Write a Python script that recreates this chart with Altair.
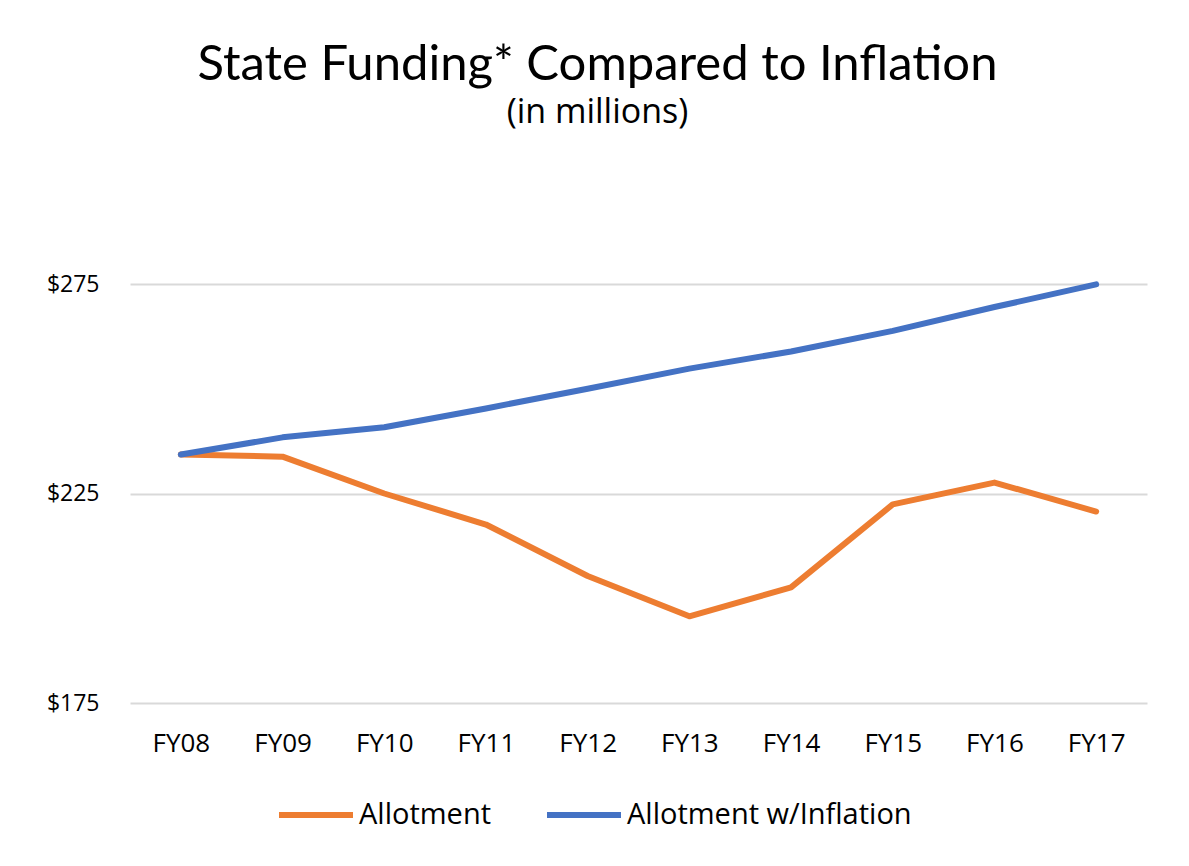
import altair as alt
import pandas as pd

years = ["FY08", "FY09", "FY10", "FY11", "FY12", "FY13", "FY14", "FY15", "FY16", "FY17"]
allotment = [234.3, 233.8, 225.0, 217.6, 205.3, 195.7, 202.6, 222.4, 227.6, 220.7]
allotment_infl = [234.3, 238.4, 240.8, 245.3, 250.0, 254.8, 258.9, 263.8, 269.5, 274.9]
series_names = ["Allotment", "Allotment w/Inflation"]
series_colors = ["#ED7D31", "#4472C4"]
y_ticks = [175, 225, 275]

rows = []
for i, fy in enumerate(years):
    rows.append({"year": fy, "series": series_names[0], "value": allotment[i], "order": 0})
    rows.append({"year": fy, "series": series_names[1], "value": allotment_infl[i], "order": 1})
df = pd.DataFrame(rows)

FONT = "Open Sans"
TFONT = "Lato"

chart = (
    alt.Chart(df)
    .mark_line(strokeWidth=6, strokeCap="round", strokeJoin="round")
    .encode(
        x=alt.X(
            "year:N",
            sort=years,
            scale=alt.Scale(type="point", padding=0.5),
            axis=alt.Axis(
                title=None,
                labelAngle=0,
                labelFontSize=26,
                labelColor="#000000",
                labelPadding=27,
                ticks=False,
                domain=False,
                grid=False,
                labelFont=FONT,
            ),
        ),
        y=alt.Y(
            "value:Q",
            scale=alt.Scale(domain=[175, 275], nice=False, zero=False),
            axis=alt.Axis(
                title=None,
                values=y_ticks,
                labelExpr="'$' + datum.value",
                labelFontSize=23,
                labelColor="#000000",
                labelPadding=31,
                ticks=False,
                domain=False,
                grid=True,
                gridColor="#D9D9D9",
                gridWidth=2,
                labelFont=FONT,
            ),
        ),
        color=alt.Color(
            "series:N",
            scale=alt.Scale(domain=series_names, range=series_colors),
            legend=alt.Legend(
                title=None,
                orient="none",
                legendX=146,
                legendY=491,
                direction="horizontal",
                symbolType="stroke",
                symbolSize=5476,
                symbolStrokeWidth=6,
                labelFontSize=29,
                labelFont=FONT,
                labelColor="#000000",
                labelOffset=3,
                labelLimit=500,
                columnPadding=43,
            ),
        ),
        order=alt.Order("order:Q"),
    )
    .properties(
        width=1017,
        height=419,
        autosize=alt.AutoSizeParams(type="none"),
        padding={"left": 122, "top": 276, "right": 34, "bottom": 150},
        background="#FFFFFF",
        title=alt.TitleParams(
            text="State Funding* Compared to Inflation",
            subtitle="(in millions)",
            fontSize=49,
            subtitleFontSize=34,
            font=TFONT,
            subtitleFont=FONT,
            fontWeight="normal",
            color="#000000",
            subtitleColor="#000000",
            anchor="middle",
            dx=-41,
            offset=143,
            subtitlePadding=6,
        ),
    )
    .configure_view(strokeWidth=0, stroke=None)
)

chart.save("out.html", embed_options={"renderer": "svg", "actions": False})
